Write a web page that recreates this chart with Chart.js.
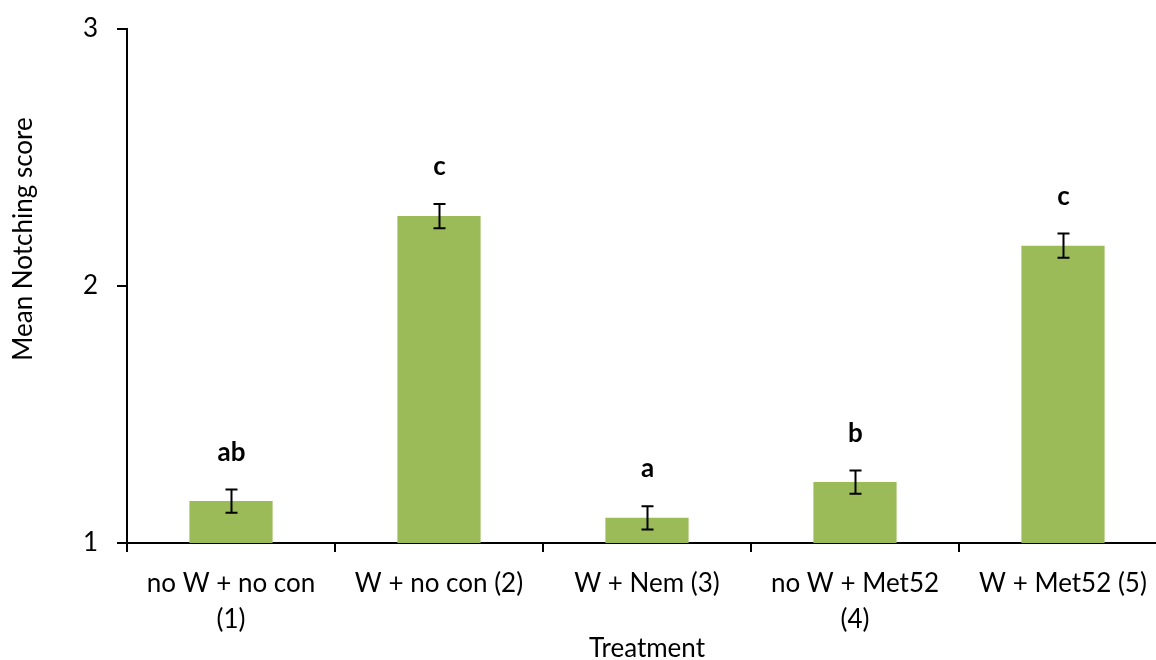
<!DOCTYPE html>
<html>
<head>
<meta charset="utf-8">
<script src="https://cdn.jsdelivr.net/npm/chart.js@4"></script>
<style>
  html, body { margin: 0; padding: 0; overflow: hidden; background: #fff; }
  canvas { display: block; }
</style>
</head>
<body>
<canvas id="c" width="1167" height="660"></canvas>
<script>
// Treatments on the x axis (two-line names are split into arrays)
const treatments = [["no W + no con", "(1)"], "W + no con (2)", "W + Nem (3)", ["no W + Met52", "(4)"], "W + Met52 (5)"];
// Mean notching score per treatment
const meanScore = [1.163, 2.272, 1.098, 1.237, 2.157];
// Standard error of each mean
const stdError = [0.045, 0.047, 0.045, 0.045, 0.047];
// Significance groups shown above each bar
const groupLetters = ["ab", "c", "a", "b", "c"];
// Value axis ticks
const yTicks = [1, 2, 3];

const FONT = "Lato, 'Liberation Sans', sans-serif";

// Draws the error bars, group letters and axis titles
const annotations = {
  id: 'annotations',
  afterDatasetsDraw(chart) {
    const { ctx, scales: { x, y } } = chart;
    const meta = chart.getDatasetMeta(0);
    ctx.save();
    ctx.strokeStyle = '#000';
    ctx.fillStyle = '#000';
    ctx.lineWidth = 2;
    meta.data.forEach((bar, i) => {
      const cx = Math.round(bar.x) + 0.5;
      const top = y.getPixelForValue(meanScore[i] + stdError[i]);
      const bot = y.getPixelForValue(meanScore[i] - stdError[i]);
      ctx.beginPath();
      ctx.moveTo(cx, top); ctx.lineTo(cx, bot);
      ctx.moveTo(cx - 6, top); ctx.lineTo(cx + 6, top);
      ctx.moveTo(cx - 6, bot); ctx.lineTo(cx + 6, bot);
      ctx.stroke();
      ctx.font = 'bold 26px ' + FONT;
      ctx.textAlign = 'center';
      ctx.textBaseline = 'alphabetic';
      ctx.fillText(groupLetters[i], cx, top - 29);
    });
    ctx.font = '26px ' + FONT;
    ctx.textAlign = 'center';
    ctx.textBaseline = 'alphabetic';
    ctx.fillText('Treatment', (x.left + x.right) / 2, 657);
    ctx.translate(32, 239);
    ctx.rotate(-Math.PI / 2);
    ctx.fillText('Mean Notching score', 0, 0);
    ctx.restore();
  }
};

function build() {
  new Chart(document.getElementById('c'), {
    type: 'bar',
    data: {
      labels: treatments,
      datasets: [{
        data: meanScore,
        backgroundColor: '#9BBB59',
        borderWidth: 0,
        categoryPercentage: 1.0,
        barPercentage: 0.4
      }]
    },
    options: {
      responsive: false,
      animation: false,
      events: [],
      layout: { padding: { top: 29, right: 0, bottom: 0, left: 0 } },
      plugins: { legend: { display: false }, tooltip: { enabled: false } },
      scales: {
        x: {
          offset: true,
          border: { display: true, color: '#000', width: 2 },
          grid: { offset: true, drawOnChartArea: false, drawTicks: true, tickLength: 9, color: '#000', lineWidth: 2 },
          ticks: { color: '#000', padding: 14, maxRotation: 0, autoSkip: false, font: { family: FONT, size: 26, lineHeight: 1.38 } },
          afterFit(scale) {
            scale.height = 117;
            scale.paddingLeft = 0; scale.paddingRight = 0;
          }
        },
        y: {
          min: 1,
          max: 3,
          afterBuildTicks(scale) { scale.ticks = yTicks.map(v => ({ value: v })); },
          border: { display: true, color: '#000', width: 2 },
          grid: { drawOnChartArea: false, drawTicks: true, tickLength: 10, color: '#000', lineWidth: 2 },
          ticks: { color: '#000', padding: 19, font: { family: FONT, size: 26 } },
          afterFit(scale) {
            scale.width = 127;
            scale.paddingTop = 0; scale.paddingBottom = 0;
          }
        }
      }
    },
    plugins: [annotations]
  });
}

Promise.all([
  document.fonts.load('26px Lato'),
  document.fonts.load('bold 26px Lato')
]).then(build, build);
</script>
</body>
</html>
